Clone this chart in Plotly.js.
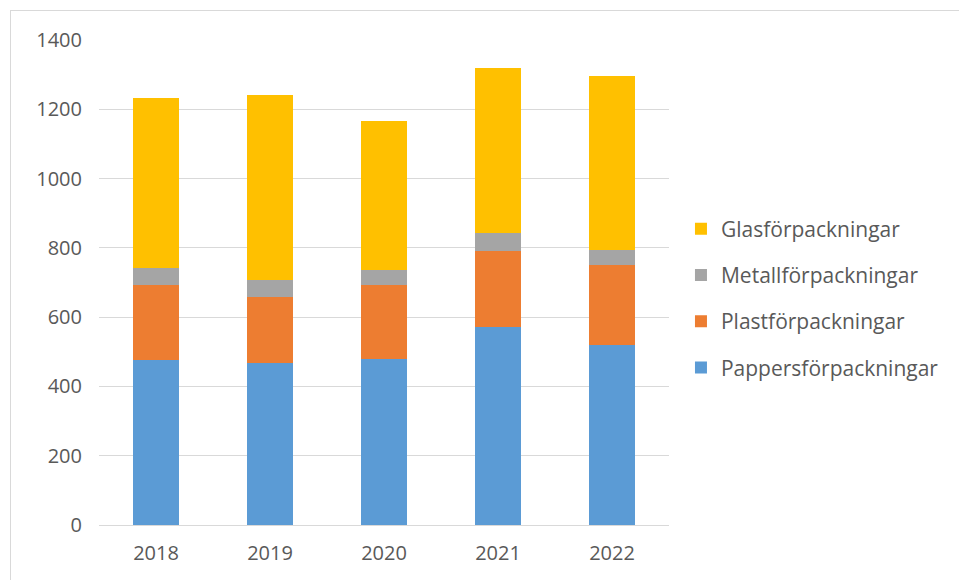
<!DOCTYPE html>
<html>
<head>
<meta charset="utf-8">
<script src="https://cdn.plot.ly/plotly-3.0.1.min.js"></script>
<style>
html,body{margin:0;padding:0;background:#fff;}
#frame{position:absolute;left:10px;top:10px;width:949px;height:570px;border-top:1.5px solid #d9d9d9;border-left:1.5px solid #d9d9d9;box-sizing:border-box;}
#chart{position:absolute;left:0;top:0;width:959px;height:580px;}
</style>
</head>
<body>
<div id="frame"></div>
<div id="chart"></div>
<script>
const years = ['2018', '2019', '2020', '2021', '2022'];
const papper = [475, 468, 478, 571, 520];
const plast = [218, 191, 214, 220, 231];
const metall = [50, 48, 45, 52, 44];
const glas = [491, 534, 430, 476, 501];
const seriesNames = ['Pappersförpackningar', 'Plastförpackningar', 'Metallförpackningar', 'Glasförpackningar'];
const colors = ['#5B9BD5', '#ED7D31', '#A5A5A5', '#FFC000'];
const values = [papper, plast, metall, glas];

const traces = values.map((v, i) => ({
  type: 'bar',
  x: years,
  y: v,
  name: seriesNames[i],
  legendgroup: 'g' + i,
  legendrank: 1000 - i,
  marker: {color: colors[i], line: {width: 0}},
  hoverinfo: 'x+y+name'
}));

const layout = {
  width: 959,
  height: 580,
  paper_bgcolor: 'rgba(0,0,0,0)',
  plot_bgcolor: 'rgba(0,0,0,0)',
  barmode: 'stack',
  bargap: 0.6,
  margin: {l: 99, r: 290, t: 40, b: 55},
  font: {family: 'Open Sans, Noto Sans, sans-serif', color: '#595959', size: 20},
  showlegend: true,
  legend: {
    traceorder: 'grouped',
    tracegroupgap: 16,
    x: 1.021, xanchor: 'left',
    y: 0.467, yanchor: 'middle',
    font: {size: 21, color: '#595959'},
    itemwidth: 30
  },
  xaxis: {
    type: 'category',
    showgrid: false,
    showline: true,
    linecolor: '#d9d9d9',
    linewidth: 1,
    ticks: '',
    ticklabelstandoff: 10,
    tickfont: {size: 20, color: '#595959'}
  },
  yaxis: {
    range: [0, 1400],
    dtick: 200,
    showgrid: true,
    gridcolor: '#d9d9d9',
    gridwidth: 1,
    zeroline: false,
    showline: false,
    ticks: '',
    ticklabelstandoff: 16,
    tickfont: {size: 20, color: '#595959'}
  }
};

Plotly.newPlot('chart', traces, layout, {displayModeBar: false, staticPlot: true});
</script>
</body>
</html>
